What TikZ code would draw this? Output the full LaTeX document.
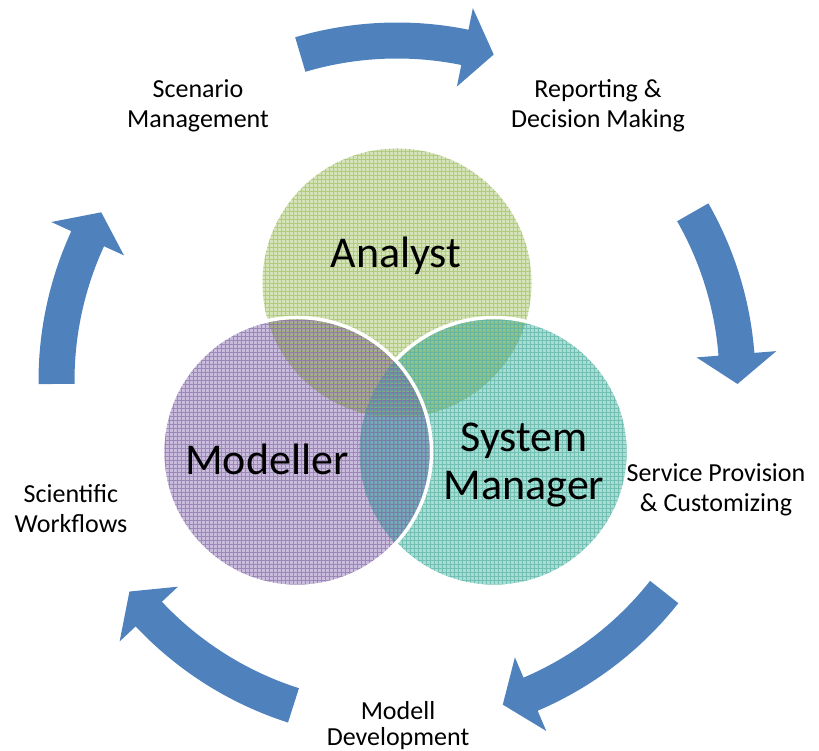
\documentclass[tikz,border=0pt]{standalone}
\usepackage{fontspec}
\setmainfont{Carlito}
\definecolor{arrowblue}{HTML}{4F81BD}
\definecolor{anafill}{HTML}{D5E4B8}
\definecolor{anagrid}{HTML}{9BBB59}
\definecolor{sysfill}{HTML}{A9DDD3}
\definecolor{sysgrid}{HTML}{4EAD9F}
\definecolor{modfill}{HTML}{C9BCDD}
\definecolor{modgrid}{HTML}{8064A2}
\definecolor{safill}{HTML}{8DC4A0}
\definecolor{mafill}{HTML}{A9A3A3}
\definecolor{msfill}{HTML}{8C9DC2}
\definecolor{msafill}{HTML}{8089A9}
\def\venrad{134.5}
\tikzset{
  cycarrow/.style={fill=arrowblue},
  outerlabel/.style={font=\fontsize{26}{30}\selectfont, anchor=base, inner sep=0pt},
  rolelabel/.style={font=\fontsize{44}{48}\selectfont, anchor=base, inner sep=0pt},
  whiteborder/.style={draw=white, line width=3.5pt},
  gridline/.style={line width=0.45pt, draw opacity=0.6},
}
% #1 tail angle, #2 tip angle (clockwise arrow around the centre)
\newcommand{\cyclearrow}[2]{%
  \fill[cycarrow, shift={(397,370)}]
    (#1:358.5) arc[start angle=#1, end angle=#2+5, radius=358.5]
    -- (#2+5:380.5) -- (#2:340.5) -- (#2+5:300.5) -- (#2+5:322.5)
    arc[start angle=#2+5, end angle=#1, radius=322.5] -- cycle;}
% #1 centre, #2 grid colour
\newcommand{\circlegrid}[2]{%
  \begin{scope}
    \clip (#1) circle[radius=\venrad];
    \draw[gridline, #2, shift={(#1)}] (-136,-136) grid[step=4pt] (136,136);
  \end{scope}}
\begin{document}
\begin{tikzpicture}[x=1pt,y=1pt]
\useasboundingbox (0,0) rectangle (819,751);

% cycle arrows
\cyclearrow{106.5}{73.5}
\cyclearrow{29.7}{-0.5}
\cyclearrow{-38.3}{-71.9}
\cyclearrow{-107.7}{-141.8}
\cyclearrow{180.5}{150.3}

% Venn circles
\coordinate (ca) at (397,468);
\coordinate (cs) at (494,299);
\coordinate (cm) at (297,299);

% fills of the regions
\fill[anafill] (ca) circle[radius=\venrad];
\fill[sysfill] (cs) circle[radius=\venrad];
\begin{scope}
  \clip (ca) circle[radius=\venrad];
  \fill[safill] (cs) circle[radius=\venrad];
\end{scope}
\fill[modfill] (cm) circle[radius=\venrad];
\begin{scope}
  \clip (cm) circle[radius=\venrad];
  \fill[mafill] (ca) circle[radius=\venrad];
  \fill[msfill] (cs) circle[radius=\venrad];
  \clip (ca) circle[radius=\venrad];
  \fill[msafill] (cs) circle[radius=\venrad];
\end{scope}

% grids and white outlines
\circlegrid{ca}{anagrid}
\circlegrid{cs}{sysgrid}
\draw[whiteborder] (cs) ++(-137.1:\venrad) arc[start angle=-137.1, end angle=137.1, radius=\venrad];
\circlegrid{cm}{modgrid}
\draw[whiteborder] (cm) circle[radius=\venrad];

% role labels
\node[rolelabel] (analyst) at (396,483) {Analyst};
\node[rolelabel] (modeller) at (267,276) {Modeller};
\node[rolelabel] (system) at (524,299) {System};
\node[rolelabel] (manager) at (524,251) {Manager};

% outer labels
\node[outerlabel] (scen1) at (198,653) {Scenario};
\node[outerlabel] (scen2) at (198,623) {Management};
\node[outerlabel] (rep1) at (598,653) {Reporting \&};
\node[outerlabel] (rep2) at (598,623) {Decision Making};
\node[outerlabel] (serv1) at (716,269) {Service Provision};
\node[outerlabel] (serv2) at (716,239) {\& Customizing};
\node[outerlabel] (sci1) at (71,248) {Scientific};
\node[outerlabel] (sci2) at (71,218) {Workflows};
\node[outerlabel] (mod1) at (398,31) {Modell};
\node[outerlabel] (mod2) at (398,5) {Development};
\end{tikzpicture}
\end{document}
